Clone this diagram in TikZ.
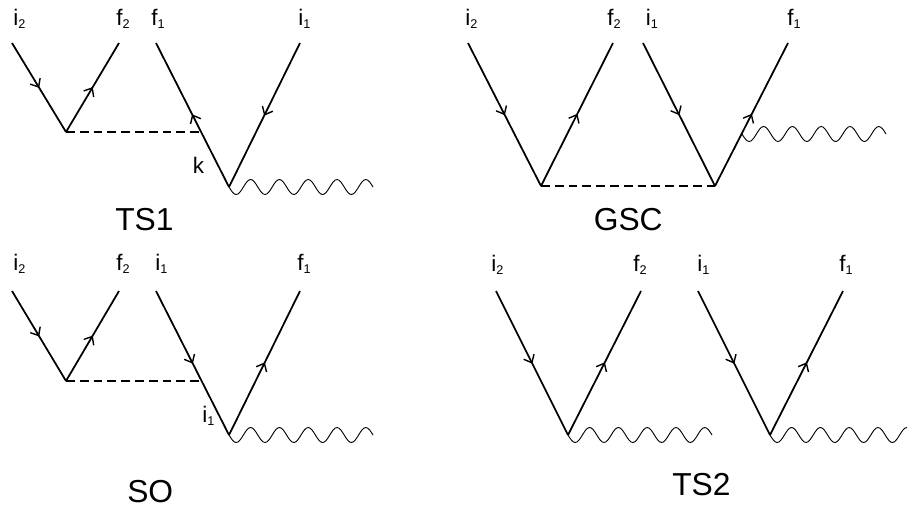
\documentclass[tikz,border=0pt]{standalone}
\usepackage{fontspec}
\setmainfont{Liberation Sans}
\usetikzlibrary{arrows.meta,decorations.markings}
\newcommand{\lab}[2]{#1\raisebox{-.3ex}{\fontsize{9}{10}\selectfont #2}}
% one wave period is 4*7.2 units long
\newcommand{\waveline}[3]{\draw[photon] (#1) \foreach \k in {1,...,#2} {sin ++(7.2,7.5) cos ++(7.2,-7.5) sin ++(7.2,-7.5) cos ++(7.2,7.5)} #3;}
\tikzset{
  leg/.style={line width=1.25pt,postaction={decorate},decoration={markings,
    mark=at position .505 with {\arrow{Straight Barb[length=1.7mm,width=2.9mm,line width=1pt]}}}},
  exch/.style={line width=1.15pt,dash pattern=on 2.2mm off 1.25mm},
  photon/.style={line width=.65pt},
  tag/.style={anchor=base west,font=\fontsize{16}{18}\selectfont,inner sep=0pt},
  title/.style={anchor=base west,font=\fontsize{22.6}{26}\selectfont,inner sep=0pt}
}
\begin{document}
\begin{tikzpicture}[x=.25mm,y=-.25mm]
\useasboundingbox (0,0) rectangle (909,511);
% TS1
\coordinate (aa) at (12,43);\coordinate (av) at (66,132);\coordinate (ab) at (119,43);
\coordinate (ac) at (156,43);\coordinate (aw) at (229,187);\coordinate (ad) at (300,43);
\coordinate (ak) at (203,132);
\draw[leg] (aa) -- (av);\draw[leg] (av) -- (ab);
\draw[leg] (aw) -- (ac);\draw[leg] (ad) -- (aw);
\draw[exch] (av) -- (ak);\waveline{aw}{5}{}
\node[tag] (ai2) at (13,25) {\lab{i}{2}};
\node[tag] (af2) at (116,25) {\lab{f}{2}};
\node[tag] (af1) at (151,25) {\lab{f}{1}};
\node[tag] (ai1) at (298,25) {\lab{i}{1}};
\node[tag] (amid) at (192.5,173) {k};
\node[title] (ats) at (115,230) {TS1};
% GSC
\coordinate (ba) at (468,43);\coordinate (bv) at (541,186);\coordinate (bb) at (613,43);
\coordinate (bc) at (643,43);\coordinate (bw) at (715,186);\coordinate (bd) at (788,43);
\coordinate (bk) at (742,134);
\draw[leg] (ba) -- (bv);\draw[leg] (bv) -- (bb);
\draw[leg] (bc) -- (bw);\draw[leg] (bw) -- (bd);
\draw[exch] (bv) -- (bw);\waveline{bk}{5}{}
\node[tag] (bi2) at (465,25) {\lab{i}{2}};
\node[tag] (bf2) at (607,25) {\lab{f}{2}};
\node[tag] (bi1) at (645.5,25) {\lab{i}{1}};
\node[tag] (bf1) at (787,25) {\lab{f}{1}};
\node[title] (bts) at (593.5,230.5) {GSC};
% SO
\coordinate (ca) at (12,291);\coordinate (cv) at (66,381);\coordinate (cb) at (119,291);
\coordinate (cc) at (156,291);\coordinate (cw) at (229,435);\coordinate (cd) at (300,291);
\coordinate (ck) at (203,381);
\draw[leg] (ca) -- (cv);\draw[leg] (cv) -- (cb);
\draw[leg] (cc) -- (cw);\draw[leg] (cw) -- (cd);
\draw[exch] (cv) -- (ck);\waveline{cw}{5}{}
\node[tag] (ci2) at (13,270) {\lab{i}{2}};
\node[tag] (cf2) at (116,270) {\lab{f}{2}};
\node[tag] (ci1) at (155,270) {\lab{i}{1}};
\node[tag] (cf1) at (297,270) {\lab{f}{1}};
\node[tag] (cmid) at (202,422) {\lab{i}{1}};
\node[title] (cts) at (127,502) {SO};
% TS2
\coordinate (da) at (496,291);\coordinate (dv) at (568,435);\coordinate (db) at (641,291);
\coordinate (dc) at (698,291);\coordinate (dw) at (770,435);\coordinate (dd) at (843,291);
\draw[leg] (da) -- (dv);\draw[leg] (dv) -- (db);
\draw[leg] (dc) -- (dw);\draw[leg] (dw) -- (dd);
\waveline{dv}{5}{}
\waveline{dw}{4}{sin ++(7.2,7.5) cos ++(7.2,-7.5) sin ++(7.2,-7.5)}
\node[tag] (di2) at (491,271) {\lab{i}{2}};
\node[tag] (df2) at (633,271) {\lab{f}{2}};
\node[tag] (di1) at (697,271) {\lab{i}{1}};
\node[tag] (df1) at (839,271) {\lab{f}{1}};
\node[title] (dts) at (672,495) {TS2};
\end{tikzpicture}
\end{document}
